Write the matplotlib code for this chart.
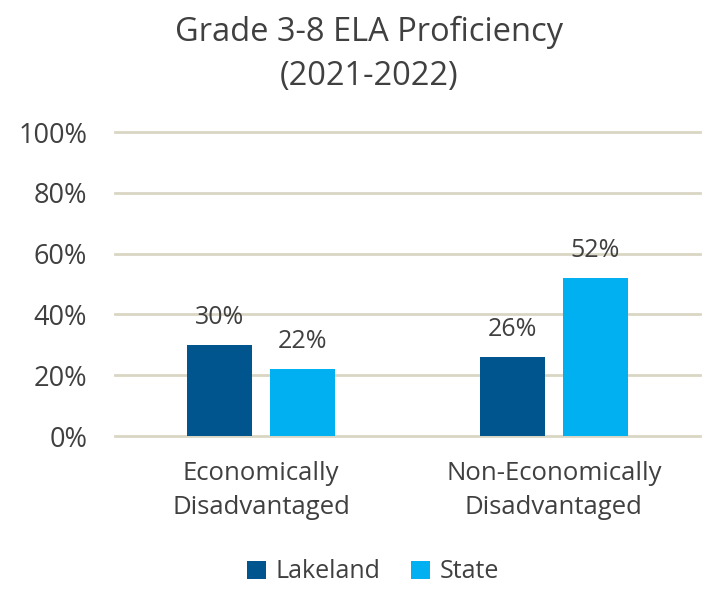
import matplotlib.pyplot as plt
import numpy as np

# Chart data
categories = ["Economically\nDisadvantaged", "Non-Economically\nDisadvantaged"]
lakeland = [30, 26]
state = [22, 52]
series_names = ["Lakeland", "State"]
y_ticks = [0, 20, 40, 60, 80, 100]

DARK_BLUE = "#00558F"
LIGHT_BLUE = "#00B0F0"
GRID = "#D9D6C4"
TEXT = "#404040"

plt.rcParams['font.family'] = ['Open Sans', 'DejaVu Sans']

fig = plt.figure(figsize=(7.05, 5.92), dpi=100)
ax = fig.add_axes([0.163, 0.2635, 0.83, 0.5135])

x = np.arange(len(categories))
width = 0.222
offset = (width + 0.06) / 2
bars1 = ax.bar(x - offset, lakeland, width, color=DARK_BLUE, label=series_names[0], zorder=3)
bars2 = ax.bar(x + offset, state, width, color=LIGHT_BLUE, label=series_names[1], zorder=3)

for bars in (bars1, bars2):
    for b in bars:
        ax.text(b.get_x() + b.get_width() / 2, b.get_height() + 5, f"{int(b.get_height())}%",
                ha='center', va='bottom', fontsize=18, color=TEXT)

ax.set_xlim(-0.5, 1.5)
ax.set_ylim(0, 100)
ax.set_yticks(y_ticks)
ax.set_yticklabels([f"{t}%" for t in y_ticks], fontsize=19.5, color=TEXT)
ax.set_xticks(x)
ax.set_xticklabels(categories, fontsize=18.5, color=TEXT, linespacing=1.45)
ax.tick_params(length=0)
ax.tick_params(axis='y', pad=20)
ax.tick_params(axis='x', pad=18)
ax.grid(axis='y', color=GRID, linewidth=2, zorder=0)
for gl in ax.get_ygridlines():
    gl.set_clip_on(False)
for s in ax.spines.values():
    s.set_visible(False)

fig.text(369 / 705, 1 - 32 / 592, "Grade 3-8 ELA Proficiency", ha='center', va='center',
         fontsize=23.5, color=TEXT)
fig.text(369 / 705, 1 - 76 / 592, "(2021-2022)", ha='center', va='center',
         fontsize=23.5, color=TEXT)

fig.legend(handles=[bars1, bars2], labels=series_names, loc='center', bbox_to_anchor=(373 / 705, 1 - 572 / 592),
           ncol=2, frameon=False, fontsize=18, handlelength=0.75, handleheight=0.75,
           handletextpad=0.4, columnspacing=1.2, labelcolor=TEXT)

fig.savefig("out.png", dpi=100)
